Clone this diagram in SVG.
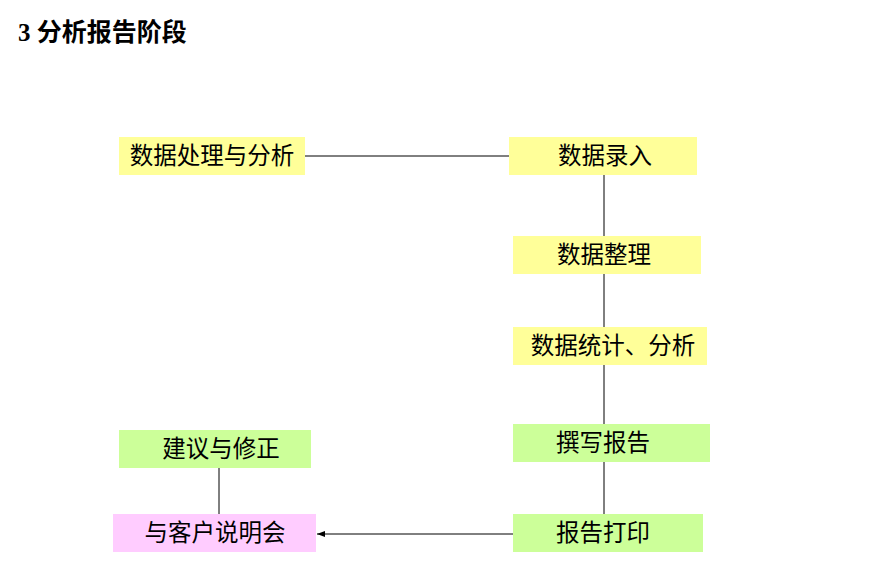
<svg xmlns="http://www.w3.org/2000/svg" width="869" height="561" viewBox="0 0 869 561">
<style>
.y{fill:#FFFF99}.g{fill:#CCFF99}.p{fill:#FFCCFF}
.t{font-family:"Liberation Serif","Noto Sans CJK SC",serif;font-size:23.5px;fill:#000;text-anchor:middle;dominant-baseline:central}
.c{stroke:#000;stroke-width:1;fill:none}
</style>
<defs><marker id="a" markerWidth="8" markerHeight="8" refX="8" refY="4" orient="auto" markerUnits="userSpaceOnUse"><path d="M0,1 L8,4 L0,7 Z" fill="#000"/></marker></defs>
<rect width="869" height="561" fill="#fff"/>
<text x="18" y="41" font-family="Liberation Serif,'Noto Sans CJK SC',serif" font-size="25" font-weight="bold">3 分析报告阶段</text>
<g id="connectors" class="c">
<line x1="305" y1="156" x2="509" y2="156"/>
<line x1="604" y1="175" x2="604" y2="236"/>
<line x1="604" y1="274" x2="604" y2="327"/>
<line x1="604" y1="365" x2="604" y2="424"/>
<line x1="604" y1="462" x2="604" y2="514"/>
<line x1="219" y1="468" x2="219" y2="514"/>
<line x1="513" y1="534" x2="317" y2="534" marker-end="url(#a)"/>
</g>
<g id="n1"><rect class="y" x="119" y="137" width="186" height="38"/><text class="t" x="212" y="156">数据处理与分析</text></g>
<g id="n2"><rect class="y" x="509" y="137" width="188" height="38"/><text class="t" x="605" y="156">数据录入</text></g>
<g id="n3"><rect class="y" x="513" y="236" width="188" height="38"/><text class="t" x="604" y="255">数据整理</text></g>
<g id="n4"><rect class="y" x="513" y="327" width="194" height="38"/><text class="t" x="613" y="346">数据统计、分析</text></g>
<g id="n5"><rect class="g" x="513" y="424" width="197" height="38"/><text class="t" x="603" y="443">撰写报告</text></g>
<g id="n6"><rect class="g" x="513" y="514" width="190" height="38"/><text class="t" x="603" y="533">报告打印</text></g>
<g id="n7"><rect class="g" x="119" y="430" width="192" height="38"/><text class="t" x="221" y="449">建议与修正</text></g>
<g id="n8"><rect class="p" x="113" y="514" width="203" height="38"/><text class="t" x="215" y="533">与客户说明会</text></g>
</svg>
